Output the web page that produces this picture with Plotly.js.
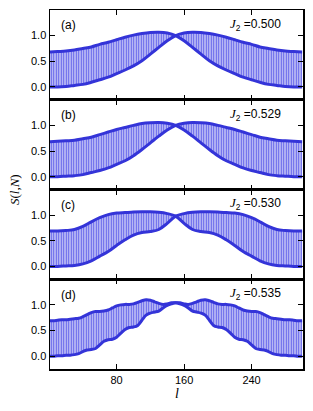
<!DOCTYPE html>
<html>
<head>
<meta charset="utf-8">
<script src="https://cdn.plot.ly/plotly-3.0.1.min.js"></script>
<style>html,body{margin:0;padding:0;background:#fff;}#chart{width:313px;height:411px;}</style>
</head>
<body>
<div id="chart"></div>
<script>
// site index l (sample points)
var l10 = [0,10,20,30,40,50,60,70,80,90,100,110,120,130,140,150,160,170,180,190,200,210,220,230,240,250,260,270,280,290,300];
var l5 = [0,5,10,15,20,25,30,35,40,45,50,55,60,65,70,75,80,85,90,95,100,105,110,115,120,125,130,135,140,145,150,
          155,160,165,170,175,180,185,190,195,200,205,210,215,220,225,230,235,240,245,250,255,260,265,270,275,280,285,290,295,300];

// J2 values for the panels
var panelLabels = ["(a)", "(b)", "(c)", "(d)"];
var j2Values = ["0.500", "0.529", "0.530", "0.535"];

// branch starting high and branch starting low
var Sa_hi = [0.68,0.69,0.70,0.72,0.75,0.78,0.83,0.87,0.92,0.97,1.01,1.04,1.06,1.065,1.05,1.00,0.90,0.77,0.64,0.51,0.41,0.33,0.26,0.19,0.14,0.09,0.05,0.03,0.01,0.00,0.00];
var Sa_lo = [0.00,0.00,0.01,0.03,0.05,0.09,0.14,0.19,0.26,0.33,0.41,0.51,0.64,0.77,0.90,1.00,1.05,1.065,1.06,1.04,1.01,0.97,0.92,0.87,0.83,0.78,0.75,0.72,0.70,0.69,0.68];

var Sb_hi = [0.68,0.69,0.70,0.71,0.74,0.77,0.82,0.87,0.92,0.96,1.00,1.035,1.05,1.055,1.04,1.00,0.91,0.79,0.66,0.53,0.41,0.31,0.24,0.17,0.12,0.08,0.04,0.02,0.01,0.00,0.00];
var Sb_lo = [0.00,0.00,0.01,0.02,0.04,0.08,0.12,0.17,0.24,0.31,0.41,0.53,0.66,0.79,0.91,1.00,1.04,1.055,1.05,1.035,1.00,0.96,0.92,0.87,0.82,0.77,0.74,0.71,0.70,0.69,0.68];

var Sc_hi = [0.69,0.69,0.70,0.72,0.78,0.87,0.95,1.01,1.04,1.05,1.06,1.065,1.065,1.055,1.03,0.98,0.84,0.72,0.68,0.66,0.61,0.52,0.41,0.29,0.20,0.11,0.05,0.02,0.01,0.00,0.00];
var Sc_lo = [0.00,0.00,0.01,0.02,0.05,0.11,0.20,0.29,0.41,0.52,0.61,0.66,0.68,0.72,0.84,0.98,1.03,1.055,1.065,1.065,1.06,1.05,1.04,1.01,0.95,0.87,0.78,0.72,0.70,0.69,0.69];

var Sd_hi = [0.69,0.69,0.70,0.71,0.71,0.72,0.73,0.74,0.77,0.81,0.85,0.87,0.87,0.88,0.90,0.94,0.98,1.00,1.01,1.01,1.02,1.05,1.08,1.10,1.09,1.06,1.03,1.01,1.02,1.04,1.04,
             1.02,0.99,0.94,0.88,0.86,0.84,0.80,0.70,0.60,0.57,0.56,0.52,0.45,0.37,0.33,0.32,0.29,0.22,0.15,0.13,0.12,0.09,0.05,0.03,0.02,0.02,0.01,0.01,0.00,0.00];
var Sd_lo = [0.00,0.00,0.01,0.01,0.02,0.02,0.03,0.05,0.09,0.12,0.13,0.15,0.22,0.29,0.32,0.33,0.37,0.45,0.52,0.56,0.57,0.60,0.70,0.80,0.84,0.86,0.88,0.94,0.99,1.02,1.04,
             1.04,1.02,1.01,1.03,1.06,1.09,1.10,1.08,1.05,1.02,1.01,1.01,1.00,0.98,0.94,0.90,0.88,0.87,0.87,0.85,0.81,0.77,0.74,0.73,0.72,0.71,0.71,0.70,0.69,0.69];

var xTicks = [80, 160, 240];
var yTicks = [0, 0.5, 1.0];
var yTickText = ["0.0", "0.5", "1.0"];

var panels = [
  {x: l10, hi: Sa_hi, lo: Sa_lo},
  {x: l10, hi: Sb_hi, lo: Sb_lo},
  {x: l10, hi: Sc_hi, lo: Sc_lo},
  {x: l5,  hi: Sd_hi, lo: Sd_lo}
];

(function () {
  var lineColor = '#3434d8';
  var traces = [];
  var layout = {
    width: 313, height: 411,
    margin: {l: 50, r: 10, t: 10, b: 42},
    paper_bgcolor: '#fff', plot_bgcolor: '#fff',
    showlegend: false,
    font: {family: 'Liberation Sans, Arial, sans-serif', size: 11, color: '#000'},
    annotations: []
  };

  var n = panels.length;
  for (var i = 0; i < n; i++) {
    var sfx = i === 0 ? '' : String(i + 1);
    var xa = 'x' + sfx, ya = 'y' + sfx;
    var p = panels[i];
    traces.push({x: p.x, y: p.lo, xaxis: xa, yaxis: ya, mode: 'lines', type: 'scatter',
      line: {width: 0, shape: 'spline', color: lineColor}, hoverinfo: 'skip'});
    traces.push({x: p.x, y: p.hi, xaxis: xa, yaxis: ya, mode: 'lines', type: 'scatter',
      line: {width: 0, shape: 'spline', color: lineColor}, fill: 'tonexty',
      fillcolor: '#cfcff6',
      fillpattern: {shape: '|', size: 2.5, solidity: 0.5, fgcolor: '#5a5aea', bgcolor: '#d4d4f8'},
      hoverinfo: 'skip'});
    traces.push({x: p.x, y: p.lo, xaxis: xa, yaxis: ya, mode: 'lines', type: 'scatter',
      line: {width: 3, shape: 'spline', color: lineColor}, hoverinfo: 'skip'});
    traces.push({x: p.x, y: p.hi, xaxis: xa, yaxis: ya, mode: 'lines', type: 'scatter',
      line: {width: 3, shape: 'spline', color: lineColor}, hoverinfo: 'skip'});

    var dTop = 1 - i / n, dBot = 1 - (i + 1) / n;
    layout['xaxis' + sfx] = {
      domain: [0, 1], anchor: ya, range: [1, 301],
      tickvals: xTicks, ticktext: xTicks.map(String),
      showticklabels: i === n - 1,
      ticks: 'inside', ticklen: 5, tickwidth: 1, tickcolor: '#000',
      showline: true, linecolor: '#000', linewidth: 1.5, mirror: 'ticks',
      showgrid: false, zeroline: false,
      tickfont: {size: 11, family: 'Liberation Sans, Arial, sans-serif'}
    };
    layout['yaxis' + sfx] = {
      domain: [dBot, dTop], anchor: xa, range: [-0.25, 1.5],
      tickvals: yTicks, ticktext: yTickText,
      ticks: 'inside', ticklen: 5, tickwidth: 1, tickcolor: '#000',
      showline: true, linecolor: '#000', linewidth: 1.5, mirror: 'ticks',
      showgrid: false, zeroline: false,
      tickfont: {size: 11, family: 'Liberation Sans, Arial, sans-serif'}
    };
    layout.annotations.push({
      xref: xa + ' domain', yref: ya + ' domain', x: 0.035, y: 0.83,
      xanchor: 'left', yanchor: 'middle', showarrow: false,
      text: panelLabels[i], font: {size: 12, family: 'Liberation Sans, Arial, sans-serif'}
    });
    layout.annotations.push({
      xref: xa + ' domain', yref: ya + ' domain', x: 0.92, y: 0.84,
      xanchor: 'right', yanchor: 'middle', showarrow: false,
      text: "<span style='font-family:Liberation Serif;font-size:13px'><i>J</i></span><sub>2</sub> =" + j2Values[i],
      font: {size: 12, family: 'Liberation Sans, Arial, sans-serif'}
    });
  }

  layout.annotations.push({
    xref: 'paper', yref: 'paper', x: -0.14, y: 0.5, textangle: -90,
    xanchor: 'center', yanchor: 'middle', showarrow: false,
    text: "<i>S</i>(<i>l</i>,<i>N</i>)",
    font: {size: 13, family: 'Liberation Serif, serif'}
  });
  layout.annotations.push({
    xref: 'paper', yref: 'paper', x: 0.5, y: -0.067,
    xanchor: 'center', yanchor: 'middle', showarrow: false,
    text: "<i>l</i>",
    font: {size: 14, family: 'Liberation Serif, serif'}
  });

  Plotly.newPlot('chart', traces, layout, {staticPlot: true, displayModeBar: false});
})();
</script>
</body>
</html>
